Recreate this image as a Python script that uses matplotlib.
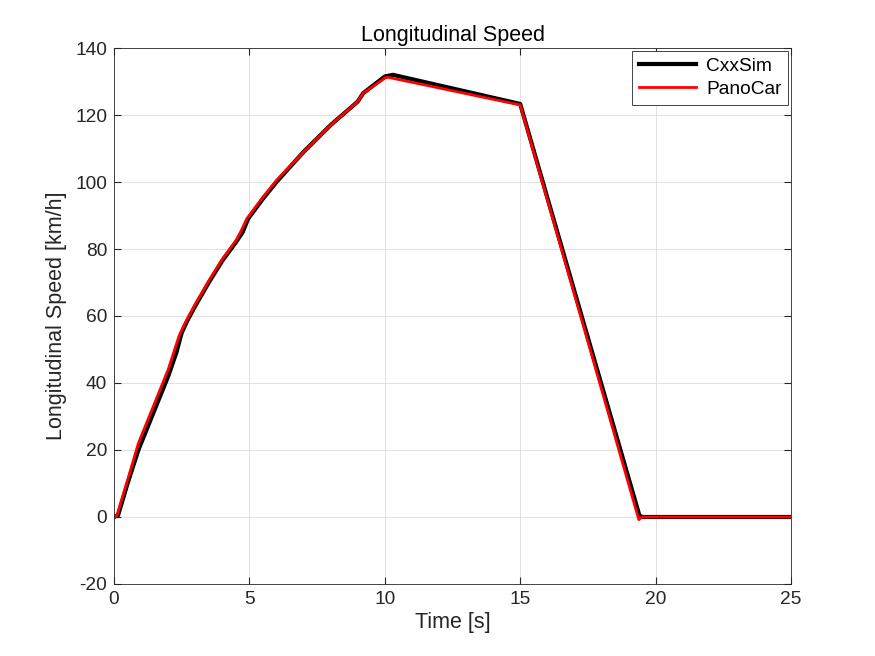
import numpy as np
import matplotlib.pyplot as plt

plt.rcParams['font.family'] = ['Liberation Sans', 'DejaVu Sans']
plt.rcParams['axes.unicode_minus'] = False

# CxxSim
t_cxx = [0, 0.15, 0.5, 0.9, 1.5, 2.0, 2.3, 2.5, 2.7, 3.0, 3.5, 4.0, 4.5, 4.75,
         4.95, 5.5, 6.0, 7.0, 8.0, 9.0, 9.2, 10.0, 10.3, 15.0, 19.4, 19.5, 25.0]
v_cxx = [0, 0.5, 10, 20, 32, 42, 49, 55, 58.5, 63, 70, 76.5, 82, 85,
         89, 95, 100, 109, 117, 124, 126.5, 131.5, 132, 123.3, 0.5, 0, 0]

# PanoCar
t_pano = [0, 0.1, 0.5, 0.9, 1.5, 2.0, 2.2, 2.4, 2.6, 3.0, 3.5, 4.0, 4.5, 4.7,
          4.9, 5.5, 6.0, 7.0, 8.0, 9.0, 9.2, 10.0, 10.1, 15.0, 19.38, 19.5, 25.0]
v_pano = [0, 0.3, 11, 22, 34, 44, 49, 54, 57.5, 63.5, 70.5, 77, 82.5, 85.5,
          89, 95.5, 100.5, 109, 117, 124, 126.5, 131, 131.3, 123, -0.8, 0, 0]

fig = plt.figure(figsize=(8.75, 6.56), dpi=100)
ax = fig.add_axes([0.1303, 0.1098, 0.7737, 0.817])
ax.plot(t_cxx, v_cxx, color='black', linewidth=3, label='CxxSim')
ax.plot(t_pano, v_pano, color='red', linewidth=2, label='PanoCar')

ax.set_xlim(0, 25)
ax.set_ylim(-20, 140)
ax.set_xticks(np.arange(0, 26, 5))
ax.set_yticks(np.arange(-20, 141, 20))
ax.grid(True, color='#dcdcdc', linewidth=0.6)
ax.tick_params(direction='in', labelsize=13.8, colors='#262626', top=True, right=True,
               labeltop=False, labelright=False, length=5, pad=5)
for s in ax.spines.values():
    s.set_color('#262626')
    s.set_linewidth(0.6)

ax.set_xlabel('Time [s]', fontsize=15.5, color='#262626', labelpad=3)
ax.set_ylabel('Longitudinal Speed [km/h]', fontsize=15.5, color='#262626', labelpad=6)
ax.set_title('Longitudinal Speed', fontsize=15.5, pad=5)

leg = ax.legend(loc='upper right', fontsize=13.8, fancybox=False, framealpha=1,
                edgecolor='#262626', borderaxespad=0.15, handlelength=3.0,
                borderpad=0.35, labelspacing=0.3, handletextpad=0.5)
leg.get_frame().set_linewidth(0.6)

fig.savefig('out.png', dpi=100)
